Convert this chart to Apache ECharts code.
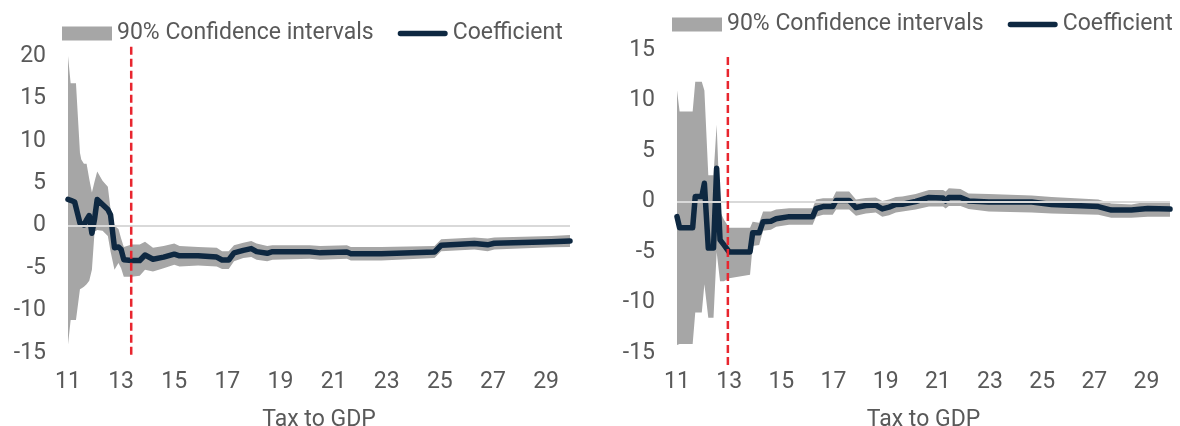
<!DOCTYPE html>
<html>
<head>
<meta charset="utf-8">
<script src="https://cdn.jsdelivr.net/npm/echarts@6/dist/echarts.min.js"></script>
<style>
  html, body { margin: 0; padding: 0; background: #ffffff; }
  #wrap { display: flex; width: 1180px; height: 426px; }
  .panel { width: 590px; height: 426px; }
</style>
</head>
<body>
<div id="wrap">
  <div id="left" class="panel"></div>
  <div id="right" class="panel"></div>
</div>
<script>
// Tick labels on the tax-to-GDP axis
const xTickLabels = [11, 13, 15, 17, 19, 21, 23, 25, 27, 29];

// Left panel: threshold grid, coefficient and 90% band
const leftX = [11.0, 11.1, 11.25, 11.3, 11.45, 11.5, 11.6, 11.7, 11.8, 11.9, 12.0, 12.1, 12.3, 12.5, 12.6, 12.75, 12.9, 13.0, 13.1, 13.4, 13.7, 13.9, 14.2, 14.6, 15.0, 15.2, 15.9, 16.6, 16.8, 17.05, 17.25, 17.6, 17.9, 18.1, 18.5, 18.7, 20.1, 20.5, 21.5, 21.65, 22.8, 24.8, 25.05, 26.3, 26.8, 27.05, 29.2, 29.9];
const leftCoef = [3.1, 3.0, 2.8, 2.6, 0.3, 0.2, 0.1, 0.7, 1.2, -0.9, 0.8, 3.1, 2.5, 1.9, 1.3, -2.6, -2.5, -2.8, -4.0, -4.1, -4.1, -3.45, -3.95, -3.7, -3.35, -3.55, -3.55, -3.7, -4.04, -4.04, -3.2, -2.9, -2.7, -3.05, -3.25, -3.06, -3.06, -3.2, -3.1, -3.3, -3.3, -3.1, -2.3, -2.1, -2.25, -2.07, -1.88, -1.8];
const leftUpper = [20.0, 16.8, 16.8, 16.8, 8.6, 7.8, 7.3, 7.3, 5.5, 3.9, 5.2, 6.4, 5.3, 4.6, 2.0, 0.0, -0.4, -1.5, -2.5, -2.2, -2.2, -1.9, -2.6, -2.4, -2.1, -2.4, -2.5, -2.6, -3.0, -3.0, -2.3, -2.0, -1.8, -2.1, -2.4, -2.3, -2.3, -2.4, -2.3, -2.5, -2.5, -2.4, -1.6, -1.4, -1.5, -1.4, -1.2, -1.1];
const leftLower = [-14.0, -11.1, -11.1, -11.1, -7.5, -7.4, -7.2, -6.9, -6.5, -5.2, -0.7, -0.5, -0.6, -1.2, -3.0, -5.2, -4.4, -5.0, -6.0, -6.0, -5.9, -5.2, -5.4, -5.0, -4.6, -4.8, -4.7, -4.8, -5.1, -5.1, -4.2, -3.8, -3.7, -4.0, -4.2, -4.0, -3.9, -4.0, -3.9, -4.1, -4.1, -3.8, -3.0, -2.8, -3.0, -2.8, -2.55, -2.5];
const leftThreshold = 13.38;
const leftThresholdSpan = [-15.2, 21.3];

// Right panel
const rightX = [11.0, 11.1, 11.6, 11.7, 11.95, 12.05, 12.2, 12.4, 12.52, 12.65, 12.8, 13.0, 13.8, 13.9, 14.15, 14.3, 14.6, 14.8, 15.3, 16.2, 16.33, 16.6, 16.97, 17.1, 17.6, 17.86, 18.24, 18.62, 18.87, 19.13, 19.39, 19.64, 20.15, 20.66, 21.2, 21.3, 21.42, 21.87, 22.18, 22.95, 24.6, 25.36, 27.15, 27.65, 28.42, 29.05, 29.9];
const rightCoef = [-1.5, -2.6, -2.6, 0.5, 0.5, 1.8, -4.6, -4.6, 3.3, -3.8, -4.3, -5.0, -5.0, -3.1, -3.1, -2.0, -1.95, -1.7, -1.5, -1.5, -0.7, -0.5, -0.5, 0.1, 0.1, -0.6, -0.4, -0.35, -0.73, -0.55, -0.3, -0.27, 0.0, 0.4, 0.35, 0.05, 0.4, 0.4, 0.06, -0.05, -0.05, -0.3, -0.5, -0.85, -0.85, -0.7, -0.75];
const rightUpper = [11.0, 8.9, 8.9, 11.85, 11.85, 11.0, 2.6, 2.6, 7.6, -1.0, -1.8, -2.6, -2.6, -2.0, -2.1, -1.0, -1.0, -0.8, -0.66, -0.66, 0.2, 0.33, 0.33, 1.0, 1.0, 0.2, 0.35, 0.4, 0.05, 0.2, 0.45, 0.5, 0.75, 1.15, 1.15, 1.0, 1.3, 1.25, 0.8, 0.75, 0.6, 0.45, 0.2, -0.2, -0.3, 0.0, 0.0];
const rightLower = [-14.2, -14.1, -14.1, -11.0, -11.0, -8.2, -11.5, -11.5, -5.0, -7.9, -7.9, -7.6, -7.25, -4.4, -4.3, -2.9, -2.8, -2.5, -2.3, -2.3, -1.5, -1.3, -1.3, -0.8, -0.8, -1.4, -1.2, -1.1, -1.5, -1.35, -1.1, -1.0, -0.8, -0.5, -0.5, -0.7, -0.45, -0.45, -0.75, -1.0, -1.1, -1.2, -1.3, -1.6, -1.6, -1.5, -1.5];
const rightThreshold = 12.95;
const rightThresholdSpan = [-16.2, 14.5];

const BAND_NAME = '90% Confidence intervals';
const COEF_NAME = 'Coefficient';
const TEXT = '#595959';
const FONT = 'Roboto';
const FONT_SIZE = 23;

function pairs(xs, ys) { return xs.map((x, i) => [x, ys[i]]); }

// Band drawn as one polygon: upper edge left to right, lower edge back
function bandRenderer(xs, lower, upper) {
  return function (params, api) {
    if (params.dataIndex !== 0) return null;
    const pts = [];
    for (let i = 0; i < xs.length; i++) pts.push(api.coord([xs[i], upper[i]]));
    for (let i = xs.length - 1; i >= 0; i--) pts.push(api.coord([xs[i], lower[i]]));
    return {
      type: 'polygon',
      shape: { points: pts },
      style: { fill: '#a6a6a6' }
    };
  };
}

function buildOption(p) {
  return {
    animation: false,
    textStyle: { fontFamily: FONT },
    legend: {
      left: p.legendLeft, top: p.legendTop, padding: 0,
      itemWidth: 50, itemHeight: 14, itemGap: 24,
      textStyle: { color: TEXT, fontSize: FONT_SIZE, fontFamily: FONT },
      data: [
        { name: BAND_NAME, icon: 'rect' },
        { name: COEF_NAME, icon: 'path://M3,0 H53 A3,3 0 0 1 53,6 H3 A3,3 0 0 1 3,0 Z' }
      ]
    },
    grid: {
      left: p.gridLeft, right: p.gridRight, top: p.gridTop, bottom: p.gridBottom,
      outerBoundsMode: 'none', containLabel: false
    },
    xAxis: {
      type: 'value', min: 11, max: 29.9,
      name: 'Tax to GDP', nameLocation: 'middle', nameGap: 56,
      nameTextStyle: { color: TEXT, fontSize: FONT_SIZE, fontFamily: FONT },
      axisLine: { show: false }, axisTick: { show: false }, splitLine: { show: false },
      axisLabel: { customValues: xTickLabels, color: TEXT, fontSize: FONT_SIZE, margin: 18, fontFamily: FONT }
    },
    yAxis: {
      type: 'value', min: p.yMin, max: p.yMax, interval: 5,
      axisLine: { show: false }, axisTick: { show: false }, splitLine: { show: false },
      axisLabel: { color: TEXT, fontSize: FONT_SIZE, margin: 22, fontFamily: FONT }
    },
    series: [
      {
        name: BAND_NAME, type: 'custom',
        data: p.x.map((x, i) => [x, p.lower[i], p.upper[i]]),
        encode: { x: 0, y: [1, 2] },
        renderItem: bandRenderer(p.x, p.lower, p.upper),
        itemStyle: { color: '#a6a6a6' }, z: 2, silent: true
      },
      {
        // horizontal zero reference
        name: 'zero', type: 'line', data: [], z: 3, silent: true,
        markLine: {
          silent: true, symbol: 'none', label: { show: false },
          lineStyle: { color: '#d9d9d9', width: 2, type: 'solid' },
          data: [{ yAxis: 0 }]
        }
      },
      {
        name: COEF_NAME, type: 'line', data: pairs(p.x, p.coef),
        symbol: 'none', color: '#0e2841', itemStyle: { color: '#0e2841' },
        lineStyle: { color: '#0e2841', width: 5.5, cap: 'round', join: 'round' }, z: 4
      },
      {
        name: 'threshold', type: 'line', clip: false, symbol: 'none', silent: true,
        data: [[p.threshold, p.span[0]], [p.threshold, p.span[1]]],
        lineStyle: { color: '#e8262f', width: 2.5, type: [8, 4] }, z: 5
      }
    ]
  };
}

const leftChart = echarts.init(document.getElementById('left'));
leftChart.setOption(buildOption({
  x: leftX, coef: leftCoef, upper: leftUpper, lower: leftLower,
  threshold: leftThreshold, span: leftThresholdSpan,
  yMin: -15, yMax: 20,
  gridLeft: 68, gridRight: 20, gridTop: 56, gridBottom: 73,
  legendLeft: 62, legendTop: 22
}));

const rightChart = echarts.init(document.getElementById('right'));
rightChart.setOption(buildOption({
  x: rightX, coef: rightCoef, upper: rightUpper, lower: rightLower,
  threshold: rightThreshold, span: rightThresholdSpan,
  yMin: -15, yMax: 15,
  gridLeft: 87, gridRight: 10, gridTop: 50, gridBottom: 73,
  legendLeft: 82, legendTop: 13
}));
</script>
</body>
</html>
